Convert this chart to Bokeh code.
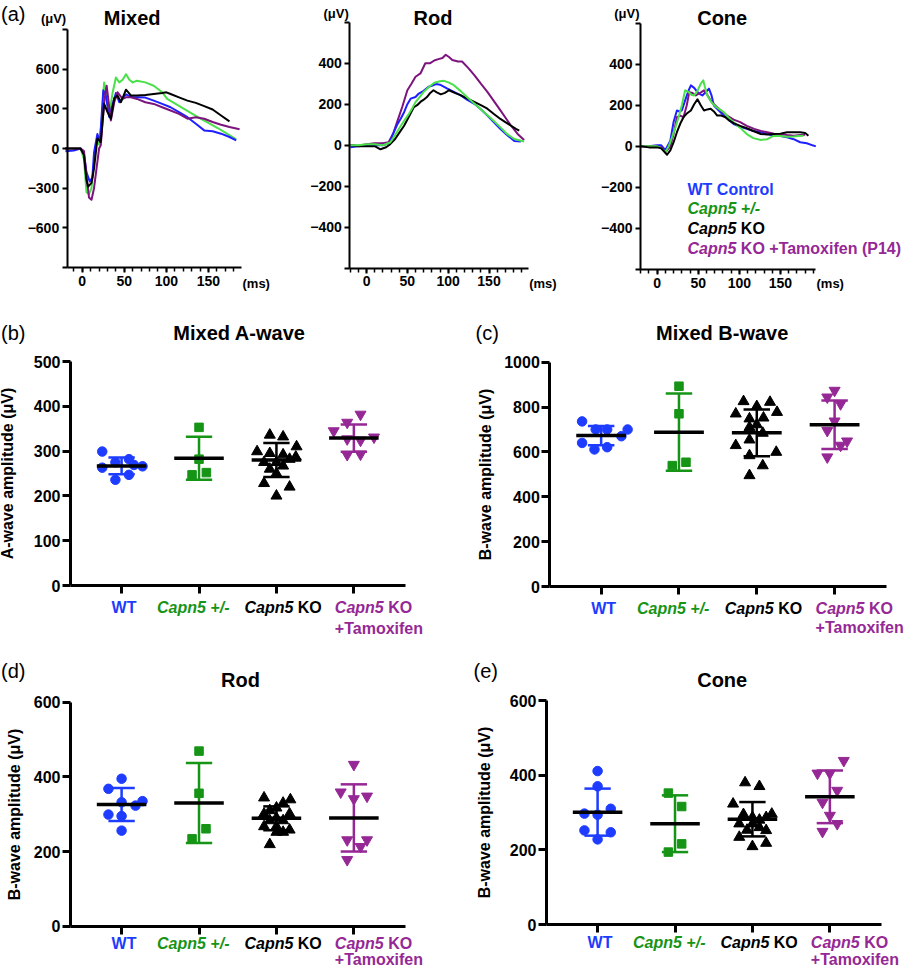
import numpy as np
from bokeh.plotting import figure
from bokeh.models import Range1d, FixedTicker, Label
from bokeh.layouts import row, column
from bokeh.embed import file_html
from bokeh.resources import INLINE

FONT = "Liberation Sans"

# ---------------- colours ----------------
BLUE = "#1d3cff"
GREEN = "#169416"
PURPLE = "#952895"
BLACK = "#000000"
TR_BLUE = "#1f1fff"
TR_GREEN = "#4ae04a"
TR_BLACK = "#000000"
TR_PURPLE = "#7d137d"

# ---------------- (a) ERG traces : time (ms) / amplitude (uV) ----------------
MIX_T_WT = [-20, -10, -2, 2, 5, 9, 12, 14, 18, 21, 25, 28, 32, 36, 40, 44, 48, 52, 58, 65, 75, 85, 95, 105, 115, 125, 135, 145, 155, 165, 175, 183]
MIX_V_WT = [-20, -15, 0, -40, -180, -250, -220, -30, 110, 50, 440, 400, 240, 330, 420, 350, 380, 410, 390, 388, 385, 362, 337, 312, 275, 237, 187, 137, 130, 112, 87, 62]
MIX_T_HET = [-20, -10, -2, 2, 5, 8, 11, 14, 17, 20, 23, 26, 29, 32, 36, 40, 44, 48, 52, 56, 60, 65, 75, 85, 95, 101, 111, 121, 131, 141, 151, 161, 172, 183]
MIX_V_HET = [0, 0, 0, -80, -330, -345, -300, -100, 50, 30, 200, 500, 400, 250, 420, 537, 500, 520, 562, 520, 500, 512, 500, 475, 425, 375, 337, 300, 262, 225, 190, 155, 112, 70]
MIX_T_KO = [-20, -10, -2, 2, 5, 7, 11, 14, 18, 22, 26, 30, 34, 38, 42, 46, 52, 58, 65, 75, 85, 95, 100, 105, 115, 125, 135, 145, 155, 165, 175]
MIX_V_KO = [0, 0, 0, -50, -240, -288, -260, -150, 75, 50, 338, 275, 225, 380, 400, 350, 445, 400, 400, 405, 412, 420, 425, 412, 387, 362, 345, 320, 295, 250, 205]
MIX_T_TAM = [-20, -10, -2, 2, 5, 8, 11, 14, 17, 20, 22, 26, 29, 34, 38, 42, 48, 52, 58, 65, 75, 85, 95, 105, 115, 125, 135, 145, 155, 165, 175, 187]
MIX_V_TAM = [0, 0, 0, -20, -200, -370, -388, -300, -150, 0, 25, 350, 475, 212, 350, 425, 375, 387, 387, 375, 350, 337, 312, 287, 262, 225, 237, 225, 200, 180, 162, 145]

ROD_T_WT = [-20, -10, 0, 10, 20, 28, 33, 38, 42, 46, 50, 54, 60, 64, 70, 76, 80, 85, 90, 95, 99, 107, 115, 123, 132, 140, 148, 156, 164, 172, 181, 189]
ROD_V_WT = [-10, -5, 0, 0, 0, 10, 60, 104, 130, 161, 200, 227, 235, 252, 265, 285, 290, 298, 295, 285, 276, 260, 244, 222, 202, 175, 145, 112, 79, 50, 21, 18]
ROD_T_HET = [-20, -10, 0, 10, 20, 29, 35, 42, 47, 52, 56, 60, 65, 70, 76, 83, 90, 95, 101, 107, 115, 123, 133, 144, 154, 164, 172, 181, 193]
ROD_V_HET = [0, 0, 5, 5, 0, 13, 50, 95, 125, 153, 180, 210, 235, 260, 283, 305, 312, 314, 305, 293, 265, 235, 200, 161, 125, 87, 55, 30, 18]
ROD_T_KO = [-20, -10, 0, 10, 17, 24, 29, 35, 40, 46, 52, 58, 62, 66, 70, 74, 78, 82, 86, 91, 96, 101, 108, 115, 123, 132, 140, 148, 156, 164, 170, 177, 183, 187]
ROD_V_KO = [0, -5, -5, -5, -20, -10, 5, 30, 60, 95, 140, 186, 195, 211, 222, 235, 255, 268, 258, 248, 255, 268, 255, 244, 228, 211, 195, 178, 152, 128, 113, 95, 80, 71]
ROD_T_TAM = [-20, -10, 0, 10, 20, 27, 33, 38, 44, 50, 55, 60, 66, 72, 78, 83, 88, 93, 97, 101, 105, 112, 117, 125, 132, 140, 148, 156, 164, 170, 177, 185, 193]
ROD_V_TAM = [0, -3, 5, 10, 10, 15, 60, 120, 190, 268, 300, 334, 350, 400, 400, 413, 420, 425, 441, 430, 416, 408, 408, 375, 342, 300, 260, 215, 170, 135, 95, 55, 25]

CONE_T_WT = [-20, -10, 0, 5, 10, 16, 20, 24, 27, 30, 34, 38, 41, 45, 49, 52, 55, 59, 63, 66, 69, 75, 81, 87, 93, 101, 109, 117, 126, 134, 142, 150, 158, 166, 174, 182, 189, 193]
CONE_V_WT = [0, 0, 5, 5, -18, 28, 120, 175, 170, 175, 224, 270, 297, 285, 264, 255, 248, 265, 281, 250, 199, 175, 150, 130, 109, 95, 85, 75, 69, 60, 52, 50, 44, 35, 20, 15, 5, 0]
CONE_T_HET = [-20, -10, 0, 5, 10, 14, 18, 22, 26, 30, 34, 38, 42, 45, 49, 53, 56, 58, 61, 66, 71, 76, 81, 87, 93, 101, 109, 117, 126, 134, 142, 150, 158, 166, 172, 178]
CONE_V_HET = [0, 0, 0, -10, -29, 0, 44, 90, 142, 200, 273, 265, 250, 248, 270, 305, 322, 290, 248, 215, 194, 180, 167, 140, 118, 90, 60, 40, 31, 35, 52, 50, 47, 48, 50, 52]
CONE_T_KO = [-20, -10, 0, 5, 12, 16, 20, 24, 28, 32, 36, 41, 45, 49, 53, 57, 61, 65, 69, 73, 78, 83, 88, 93, 101, 109, 117, 126, 134, 142, 150, 158, 166, 174, 180, 184]
CONE_V_KO = [0, -5, -5, -10, -41, -20, 20, 69, 110, 142, 160, 175, 205, 229, 200, 175, 180, 183, 170, 150, 150, 142, 125, 113, 100, 88, 75, 60, 58, 60, 62, 69, 69, 69, 65, 52]
CONE_T_TAM = [-20, -10, 0, 5, 10, 16, 20, 24, 28, 32, 36, 39, 43, 47, 52, 57, 61, 65, 69, 73, 79, 85, 93, 101, 109, 118, 126, 134, 142, 150, 158, 166, 174, 180]
CONE_V_TAM = [0, 0, 0, -5, -29, 0, 60, 142, 150, 142, 200, 264, 260, 248, 260, 273, 250, 224, 205, 191, 170, 150, 130, 118, 100, 85, 75, 69, 62, 60, 55, 52, 55, 57]

# ---------------- (b)-(e) amplitudes (uV), per animal ----------------
CATS = [1, 2, 3, 4]

AW_WT = [299, 263, 275, 282, 269, 266, 247, 236]
AW_WT_JIT = [-0.25, -0.25, -0.08, 0.095, 0.16, 0.27, 0.095, -0.08]
AW_HET = [353, 282, 247, 252]
AW_HET_JIT = [0.0, 0.0, -0.09, 0.095]
AW_KO = [336, 332, 310, 299, 295, 292, 287, 282, 275, 275, 267, 260, 250, 228, 220, 200]
AW_KO_JIT = [-0.086, 0.086, 0.26, -0.25, -0.086, 0.086, 0.25, 0.17, -0.16, 0.0, 0.086, -0.086, 0.0, -0.16, 0.17, 0.0]
AW_TAM = [382, 364, 345, 331, 327, 324, 292, 293]
AW_TAM_JIT = [0.086, -0.086, -0.26, 0.26, -0.086, 0.086, -0.086, 0.086]
AW_MEAN = [267, 284, 280, 329]
AW_SD = [18.5, 48, 38, 30.5]

BW_WT = [736, 700, 700, 700, 670, 640, 611, 621]
BW_WT_JIT = [-0.245, -0.07, 0.077, 0.34, 0.26, -0.245, -0.086, 0.077]
BW_HET = [893, 770, 554, 539]
BW_HET_JIT = [0.0, 0.0, 0.09, -0.086]
BW_KO = [825, 822, 803, 777, 770, 748, 752, 722, 710, 684, 654, 629, 599, 584, 539, 495]
BW_KO_JIT = [-0.17, 0.17, 0.0, 0.26, -0.27, -0.094, 0.086, 0.0, -0.094, 0.077, -0.094, -0.27, 0.25, -0.094, 0.077, -0.094]
BW_TAM = [874, 844, 814, 737, 695, 648, 629, 577]
BW_TAM_JIT = [0.0, -0.094, 0.077, 0.0, -0.094, 0.16, 0.077, -0.094]
BW_MEAN = [673, 688, 685, 721]
BW_SD = [43, 172, 104, 108]

RD_WT = [395, 368, 332, 335, 323, 299, 295, 256]
RD_WT_JIT = [0.0, -0.17, 0.0, 0.27, 0.18, -0.17, 0.0, 0.0]
RD_HET = [469, 356, 261, 234]
RD_HET_JIT = [0.0, 0.0, 0.09, -0.09]
RD_KO = [344, 339, 330, 317, 310, 301, 301, 290, 283, 283, 267, 267, 258, 252, 252, 219]
RD_KO_JIT = [-0.16, 0.18, 0.086, 0.0, -0.086, -0.16, 0.17, 0.0, -0.086, 0.086, -0.16, 0.0, 0.17, 0.086, 0.0, -0.086]
RD_TAM = [433, 359, 341, 348, 231, 231, 213, 178]
RD_TAM_JIT = [0.0, -0.17, 0.0, 0.17, -0.086, 0.17, 0.086, -0.086]
RD_MEAN = [326, 330, 289, 290]
RD_SD = [44.5, 107, 32, 90]

CN_WT = [411, 370, 297, 294, 310, 252, 247, 228]
CN_WT_JIT = [0.0, 0.0, -0.17, 0.0, 0.17, -0.17, 0.17, 0.0]
CN_HET = [352, 316, 216, 194]
CN_HET_JIT = [-0.086, 0.086, 0.086, -0.086]
CN_KO = [380, 370, 323, 296, 295, 287, 287, 280, 270, 270, 260, 253, 252, 234, 209, 218]
CN_KO_JIT = [-0.095, 0.09, -0.25, 0.25, -0.116, 0.0, 0.177, 0.09, -0.17, 0.0, 0.09, -0.07, 0.177, -0.17, 0.0, 0.177]
CN_TAM = [439, 405, 405, 359, 327, 292, 270, 249]
CN_TAM_JIT = [0.18, -0.16, 0.0, 0.095, -0.095, 0.0, 0.095, -0.095]
CN_MEAN = [301, 270, 282, 342]
CN_SD = [63, 76, 46, 70.5]

GROUP_COLORS = [BLUE, GREEN, BLACK, PURPLE]
MARKERS = ["circle", "square", "triangle", "inverted_triangle"]
MSIZES = [9.5, 8.5, 11, 11]

# Arial / Liberation Sans Bold advance widths (em)
EM = {"W": .944, "T": .611, "C": .722, "a": .556, "p": .611, "n": .611, "5": .556, " ": .278,
      "+": .584, "/": .278, "-": .333, "K": .722, "O": .778, "m": .889, "o": .611, "x": .556,
      "i": .278, "f": .333, "e": .556, "(": .333, "P": .667, "1": .556, "4": .556, ")": .333,
      "l": .278, "r": .389, "t": .333}


def text_w(s, size):
    return sum(EM.get(c, 0.556) for c in s) * size


def setup(fig_box, frame, xr, yr):
    """fig_box / frame in page pixels; xr, yr = data ranges spanned by the axes."""
    fl, ft, fw, fh = fig_box
    l, t, r, b = frame
    sx = (xr[1] - xr[0]) / (r - l)
    sy = (yr[1] - yr[0]) / (b - t)

    def X(px):
        return xr[0] + (px - l) * sx

    def Y(py):
        return yr[1] - (py - t) * sy

    p = figure(width=fw, height=fh,
               x_range=Range1d(X(fl), X(fl + fw)), y_range=Range1d(Y(ft + fh), Y(ft)),
               min_border_left=0, min_border_right=0, min_border_top=0, min_border_bottom=0,
               output_backend="svg", toolbar_location=None)
    p.title.visible = False
    p.outline_line_color = None
    p.xgrid.visible = False
    p.ygrid.visible = False
    p.xaxis.fixed_location = yr[0]
    p.xaxis.bounds = (xr[0], xr[1])
    p.yaxis.fixed_location = xr[0]
    p.yaxis.bounds = (yr[0], yr[1])
    return p, X, Y


def style_axis(ax, lw, tick_out, size, standoff):
    ax.axis_line_width = lw
    ax.axis_line_color = "black"
    ax.major_tick_line_width = lw
    ax.major_tick_line_color = "black"
    ax.major_tick_out = tick_out
    ax.major_tick_in = 0
    ax.minor_tick_line_width = lw
    ax.minor_tick_line_color = "black"
    ax.minor_tick_in = 0
    ax.minor_tick_out = tick_out
    ax.major_label_text_font = FONT
    ax.major_label_text_font_style = "bold"
    ax.major_label_text_font_size = f"{size}px"
    ax.major_label_text_color = "black"
    ax.major_label_standoff = standoff


def label(p, x, y, text, size, color="black", style="bold", align="left", x_offset=0):
    p.add_layout(Label(x=x, y=y, text=text, text_font=FONT, text_font_size=f"{size}px",
                       text_font_style=style, text_color=color, text_align=align,
                       text_baseline="middle", x_offset=x_offset))


def rich(p, x, y, parts, size, color, x_offset=0):
    off = x_offset
    for txt, ital in parts:
        lead = len(txt) - len(txt.lstrip())
        off += lead * EM[" "] * size
        t = txt.strip()
        label(p, x, y, t, size, color, "bold italic" if ital else "bold", "left", off)
        off += text_w(t, size)


def trace_panel(fig_box, frame, xr, yr, ymajor, yends, xminor, title, title_x, unit_y, traces):
    p, X, Y = setup(fig_box, frame, xr, yr)
    p.yaxis.ticker = FixedTicker(ticks=ymajor, minor_ticks=yends)
    p.xaxis.ticker = FixedTicker(ticks=[0, 50, 100, 150], minor_ticks=xminor)
    style_axis(p.yaxis[0], 2, 5, 14, 3)
    style_axis(p.xaxis[0], 2, 5, 14, 3)
    p.xaxis.minor_tick_out = 4
    p.xaxis.minor_tick_line_width = 1.5
    for t, v, c in traces:
        p.line(t, v, line_color=c, line_width=2, line_join="round")
    l, tp, r, b = frame
    label(p, X(title_x), Y(17), title, 20, align="center")
    label(p, X(l - 1), Y(unit_y), "(\u03bcV)", 13, align="right")
    label(p, X(r + 1), Y(283), "(ms)", 13, align="left")
    return p, X, Y


# ---------------- top row ----------------
pA, XA, YA = trace_panel((0, 0, 300, 295), (66.7, 29, 241, 267), (-17.9, 189.3), (-900, 900),
                         [-600, -300, 0, 300, 600], [-900, 900], list(range(-10, 190, 10)),
                         "Mixed", 131.7, 18,
                         [(MIX_T_HET, MIX_V_HET, TR_GREEN), (MIX_T_WT, MIX_V_WT, TR_BLUE),
                          (MIX_T_TAM, MIX_V_TAM, TR_PURPLE), (MIX_T_KO, MIX_V_KO, TR_BLACK)])
label(pA, XA(0.5), YA(13), "(a)", 20, style="normal")

pB, XB, YB = trace_panel((300, 0, 300, 295), (349.3, 21.7, 527.7, 267.7), (-20.5, 198), (-600, 600),
                         [-400, -200, 0, 200, 400], [-600, 600], list(range(-20, 200, 10)),
                         "Rod", 432.5, 13,
                         [(ROD_T_TAM, ROD_V_TAM, TR_PURPLE), (ROD_T_WT, ROD_V_WT, TR_BLUE),
                          (ROD_T_KO, ROD_V_KO, TR_BLACK), (ROD_T_HET, ROD_V_HET, TR_GREEN)])

pC, XC, YC = trace_panel((600, 0, 312, 295), (640, 22.7, 815, 269), (-20.3, 192.6), (-600, 600),
                         [-400, -200, 0, 200, 400], [-600, 600], list(range(-20, 200, 10)),
                         "Cone", 721.7, 13,
                         [(CONE_T_WT, CONE_V_WT, TR_BLUE), (CONE_T_TAM, CONE_V_TAM, TR_PURPLE),
                          (CONE_T_HET, CONE_V_HET, TR_GREEN), (CONE_T_KO, CONE_V_KO, TR_BLACK)])
LEG_X = 687
rich(pC, XC(LEG_X), YC(189), [("WT Control", False)], 16, BLUE)
rich(pC, XC(LEG_X), YC(208), [("Capn5 +/-", True)], 16, GREEN)
rich(pC, XC(LEG_X), YC(227.5), [("Capn5", True), (" KO", False)], 16, BLACK)
rich(pC, XC(LEG_X), YC(247.5), [("Capn5", True), (" KO +Tamoxifen (P14)", False)], 16, PURPLE)

# ---------------- scatter panels ----------------
XR = (0.34, 4.667)
LAB_OFF = [-10, -42, -32, -19]


def scatter_panel(fig_box, frame, yr, ystep, groups, means, sds, ylabel, ystand,
                  title, title_xy, tag, tag_xy, lab_y1, lab_y2):
    p, X, Y = setup(fig_box, frame, XR, yr)
    p.yaxis.ticker = FixedTicker(ticks=list(range(yr[0], yr[1] + 1, ystep)), minor_ticks=[])
    p.xaxis.ticker = FixedTicker(ticks=[], minor_ticks=CATS)
    style_axis(p.yaxis[0], 3, 8, 16, 2)
    style_axis(p.xaxis[0], 3, 8, 16, 2)
    p.yaxis.axis_label = ylabel
    p.yaxis.axis_label_text_font = FONT
    p.yaxis.axis_label_text_font_style = "bold"
    p.yaxis.axis_label_text_font_size = "16px"
    p.yaxis.axis_label_text_color = "black"
    p.yaxis.axis_label_standoff = ystand

    for i, (vals, jit) in enumerate(groups):
        xs = [CATS[i] + j for j in jit]
        p.scatter(xs, vals, marker=MARKERS[i], size=MSIZES[i], color=GROUP_COLORS[i])

    xc = np.array(CATS, dtype=float)
    m = np.array(means, dtype=float)
    s = np.array(sds, dtype=float)
    cap, half = 0.17, 0.32
    p.segment(xc, m - s, xc, m + s, line_color=GROUP_COLORS, line_width=2.5)
    p.segment(xc - cap, m + s, xc + cap, m + s, line_color=GROUP_COLORS, line_width=2.5)
    p.segment(xc - cap, m - s, xc + cap, m - s, line_color=GROUP_COLORS, line_width=2.5)
    p.segment(xc - half, m, xc + half, m, line_color="black", line_width=3.5)

    label(p, X(title_xy[0]), Y(title_xy[1]), title, 20, align="center")
    label(p, X(tag_xy[0]), Y(tag_xy[1]), tag, 20, style="normal")

    y1, y2 = Y(lab_y1), Y(lab_y2)
    rich(p, CATS[0], y1, [("WT", False)], 16, BLUE, LAB_OFF[0])
    rich(p, CATS[1], y1, [("Capn5 +/-", True)], 16, GREEN, LAB_OFF[1])
    rich(p, CATS[2], y1, [("Capn5", True), (" KO", False)], 16, BLACK, LAB_OFF[2])
    rich(p, CATS[3], y1, [("Capn5", True), (" KO", False)], 16, PURPLE, LAB_OFF[3])
    rich(p, CATS[3], y2, [("+Tamoxifen", False)], 16, PURPLE, LAB_OFF[3])
    return p


pb = scatter_panel((0, 295, 460, 345), (70, 361, 405, 585), (0, 500), 100,
                   [(AW_WT, AW_WT_JIT), (AW_HET, AW_HET_JIT), (AW_KO, AW_KO_JIT), (AW_TAM, AW_TAM_JIT)],
                   AW_MEAN, AW_SD, "A-wave amplitude (\u03bcV)", 15,
                   "Mixed A-wave", (239, 332), "(b)", (0.5, 332), 607, 628)
pc = scatter_panel((460, 295, 452, 345), (549.3, 361.7, 886, 586), (0, 1000), 200,
                   [(BW_WT, BW_WT_JIT), (BW_HET, BW_HET_JIT), (BW_KO, BW_KO_JIT), (BW_TAM, BW_TAM_JIT)],
                   BW_MEAN, BW_SD, "B-wave amplitude (\u03bcV)", 7,
                   "Mixed B-wave", (721.7, 332), "(c)", (475, 332), 608, 627)
pd_ = scatter_panel((0, 640, 460, 330), (70, 701.7, 405, 925.7), (0, 600), 200,
                    [(RD_WT, RD_WT_JIT), (RD_HET, RD_HET_JIT), (RD_KO, RD_KO_JIT), (RD_TAM, RD_TAM_JIT)],
                    RD_MEAN, RD_SD, "B-wave amplitude (\u03bcV)", 8,
                    "Rod", (240, 679), "(d)", (0.5, 670), 943, 959)
pe = scatter_panel((460, 640, 452, 330), (546, 700, 881, 924), (0, 600), 200,
                   [(CN_WT, CN_WT_JIT), (CN_HET, CN_HET_JIT), (CN_KO, CN_KO_JIT), (CN_TAM, CN_TAM_JIT)],
                   CN_MEAN, CN_SD, "B-wave amplitude (\u03bcV)", 14,
                   "Cone", (721.7, 679), "(e)", (473, 670), 942, 959)

layout = column(row(pA, pB, pC), row(pb, pc), row(pd_, pe))
open("out.html", "w").write(file_html(layout, INLINE))
